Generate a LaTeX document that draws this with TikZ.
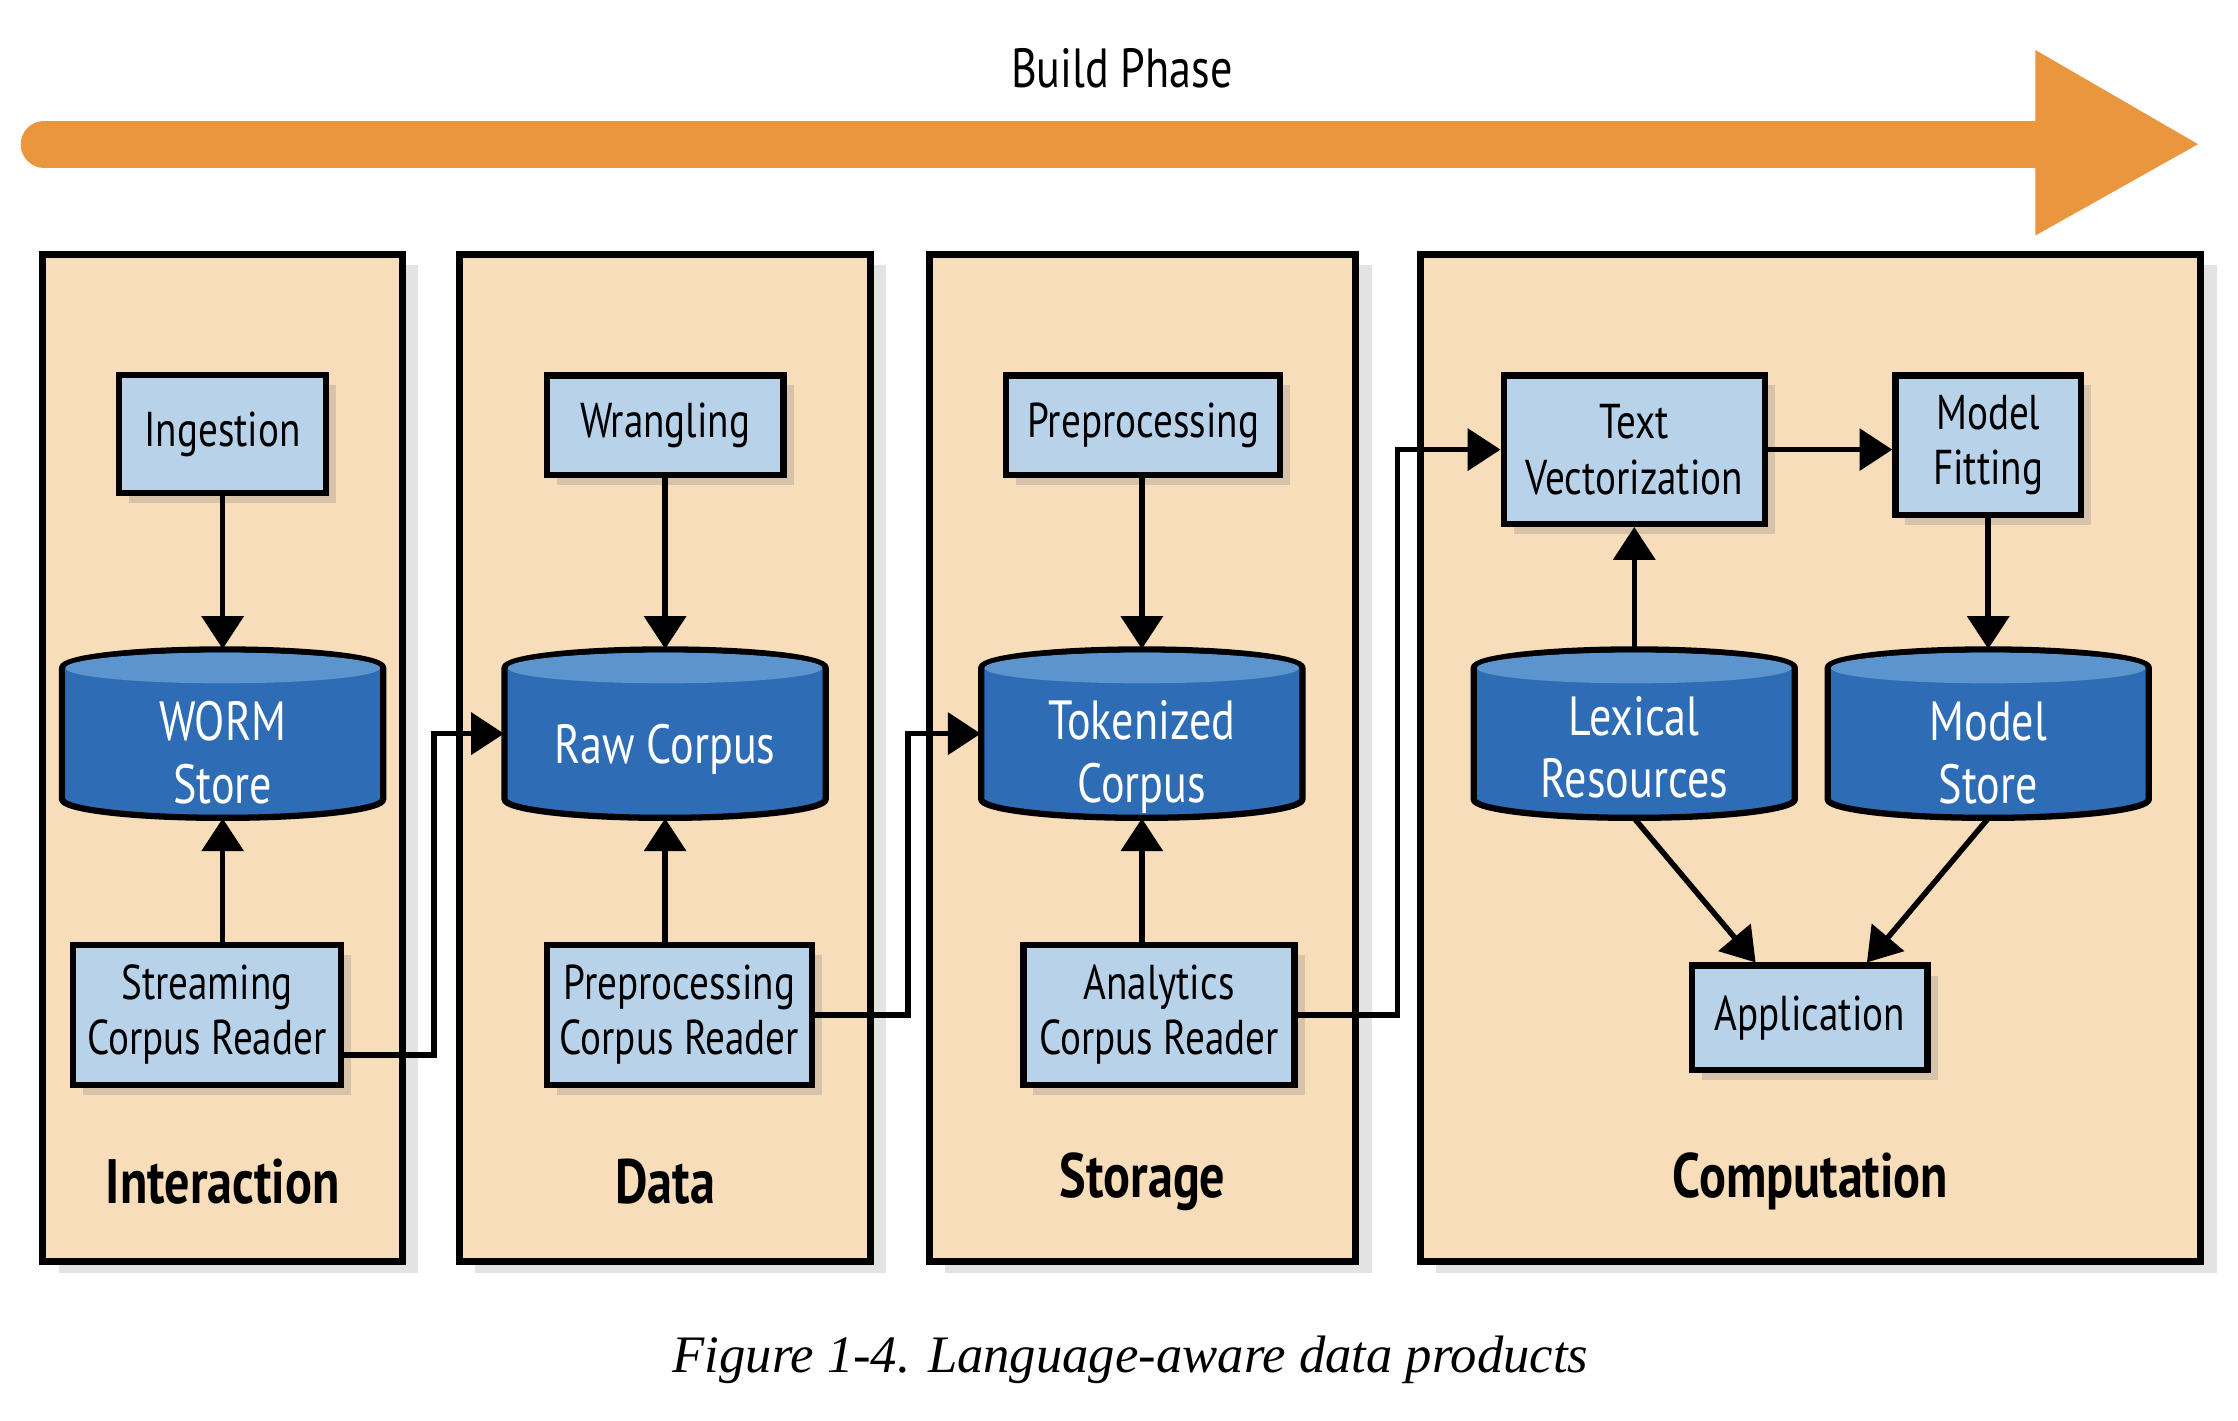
\documentclass[tikz,border=0pt]{standalone}
\usepackage{fontspec}
\setmainfont{PT Sans}[FakeStretch=0.8]
\newfontfamily\captionfont{Liberation Serif}
\usetikzlibrary{positioning, arrows.meta, shadows}

\definecolor{panelfill}{HTML}{F8DDBA}
\definecolor{boxblue}{HTML}{B8D2EA}
\definecolor{dbblue}{HTML}{2E6DB5}
\definecolor{dbtop}{HTML}{5C95CE}
\definecolor{phaseorange}{HTML}{E9963F}

\begin{document}
\begin{tikzpicture}[x=0.2mm, y=-0.2mm,
    panel/.style={draw, line width=2.8pt, fill=panelfill, drop shadow={shadow xshift=2.2mm, shadow yshift=-1.6mm, opacity=0.22}},
    proc box/.style={draw, line width=2.5pt, fill=boxblue, align=center, inner sep=2pt, font=\fontsize{19.5}{22}\selectfont, drop shadow={shadow xshift=1.4mm, shadow yshift=-1.4mm, opacity=0.28}},
    store body/.style={fill=dbblue, draw, line width=2.5pt, line join=round},
    store top/.style={fill=dbtop},
    corpus store/.style={minimum width=45mm, minimum height=23.6mm, inner sep=1pt, text=white, align=center, text depth=0.5mm, font=\fontsize{22}{25}\selectfont},
    flow/.style={-{Triangle[length=4.6mm, width=5.8mm]}, line width=2.2pt},
    phase label/.style={font=\fontsize{25}{28}\selectfont\bfseries}]

    \useasboundingbox (0,0) rectangle (1568,995);

    % Build phase arrow
    \coordinate (build start) at (31,101);
    \coordinate (build end) at (1430,101);
    \draw[phaseorange, line width=6.6mm, line cap=round] (build start) -- (build end);
    \fill[phaseorange] (1426,35) -- (1540,101) -- (1426,165) -- cycle;
    \node[font=\fontsize{22}{25}\selectfont] (build) at (786,48) {Build Phase};

    % Panels with their labels
    \foreach \xa/\xb/\lab/\name in {30/282/Interaction/interaction, 322/610/Data/data, 651/950/Storage/storage, 995/1542/Computation/computation} {
        \draw[panel] (\xa,178) rectangle (\xb,884);
        \node[phase label] (\name) at ({(\xa+\xb)/2},828) {\lab};
    }

    % Corpus stores (cylinders)
    \foreach \name/\cx/\lab/\th in {worm/156/{WORM\\Store}/20.1mm, raw/466/{Raw Corpus}/8.9mm, tok/800/{Tokenized\\Corpus}/19.7mm, lex/1145/{Lexical\\Resources}/18.5mm, ms/1393/{Model\\Store}/20.1mm} {
        \path[store body] (\cx-112.5,468) arc[start angle=180, end angle=0, x radius=22.5mm, y radius=2.6mm]
            -- (\cx+112.5,560) arc[start angle=0, end angle=-180, x radius=22.5mm, y radius=2.6mm] -- cycle;
        \fill[store top] (\cx,468) ellipse[x radius=22.05mm, y radius=2.15mm];
        \node[corpus store, text height=\th] (\name) at (\cx,514) {\lab};
    }

    % Interaction
    \node[proc box, minimum width=29mm, minimum height=16.6mm] (ingest) at (156,304) {Ingestion};
    \node[proc box, minimum width=37.6mm, minimum height=19.6mm] (scr) at (145,711) {Streaming\\Corpus Reader};

    % Data
    \node[proc box, minimum width=33.2mm, minimum height=14mm] (wrangle) at (466,298) {Wrangling};
    \node[proc box, minimum width=37.2mm, minimum height=19.6mm] (pcr) at (476,711) {Preprocessing\\Corpus Reader};

    % Storage
    \node[proc box, minimum width=38.4mm, minimum height=14mm] (prep) at (801,298) {Preprocessing};
    \node[proc box, minimum width=38mm, minimum height=19.6mm] (acr) at (812,711) {Analytics\\Corpus Reader};

    % Computation
    \node[proc box, minimum width=36.6mm, minimum height=20.8mm] (tv) at (1145,315) {Text\\Vectorization};
    \node[proc box, minimum width=26mm, minimum height=19.6mm] (mf) at (1393,312) {Model\\Fitting};
    \node[proc box, minimum width=33mm, minimum height=14.6mm] (app) at (1268,713) {Application};

    % Connections inside the panels
    \draw[flow] (ingest) -- (worm);
    \draw[flow] (scr.north -| worm) -- (worm.south);
    \draw[flow] (wrangle) -- (raw);
    \draw[flow] (pcr.north -| raw) -- (raw.south);
    \draw[flow] (prep.south -| tok) -- (tok.north);
    \draw[flow] (acr.north -| tok) -- (tok.south);
    \draw[flow] (tv.east) -- (tv.east -| mf.west);
    \draw[flow] (lex) -- (tv);
    \draw[flow] (mf) -- (ms);
    \draw[flow] (lex.south) -- ([xshift=-7.6mm]app.north);
    \draw[flow] (ms.south) -- ([xshift=8mm]app.north);

    % Connections between the panels
    \draw[flow] ([yshift=-5.6mm]scr.east) -- ++(63,0) |- (raw.west);
    \draw[flow] (pcr.east) -- ++(65,0) |- (tok.west);
    \draw[flow] (acr.east) -- ++(70,0) |- (tv.west);

    % Caption
    \node[font=\captionfont\itshape\fontsize{21}{24}\selectfont] (caption) at (792,953) {Figure 1-4. Language-aware data products};

\end{tikzpicture}
\end{document}
